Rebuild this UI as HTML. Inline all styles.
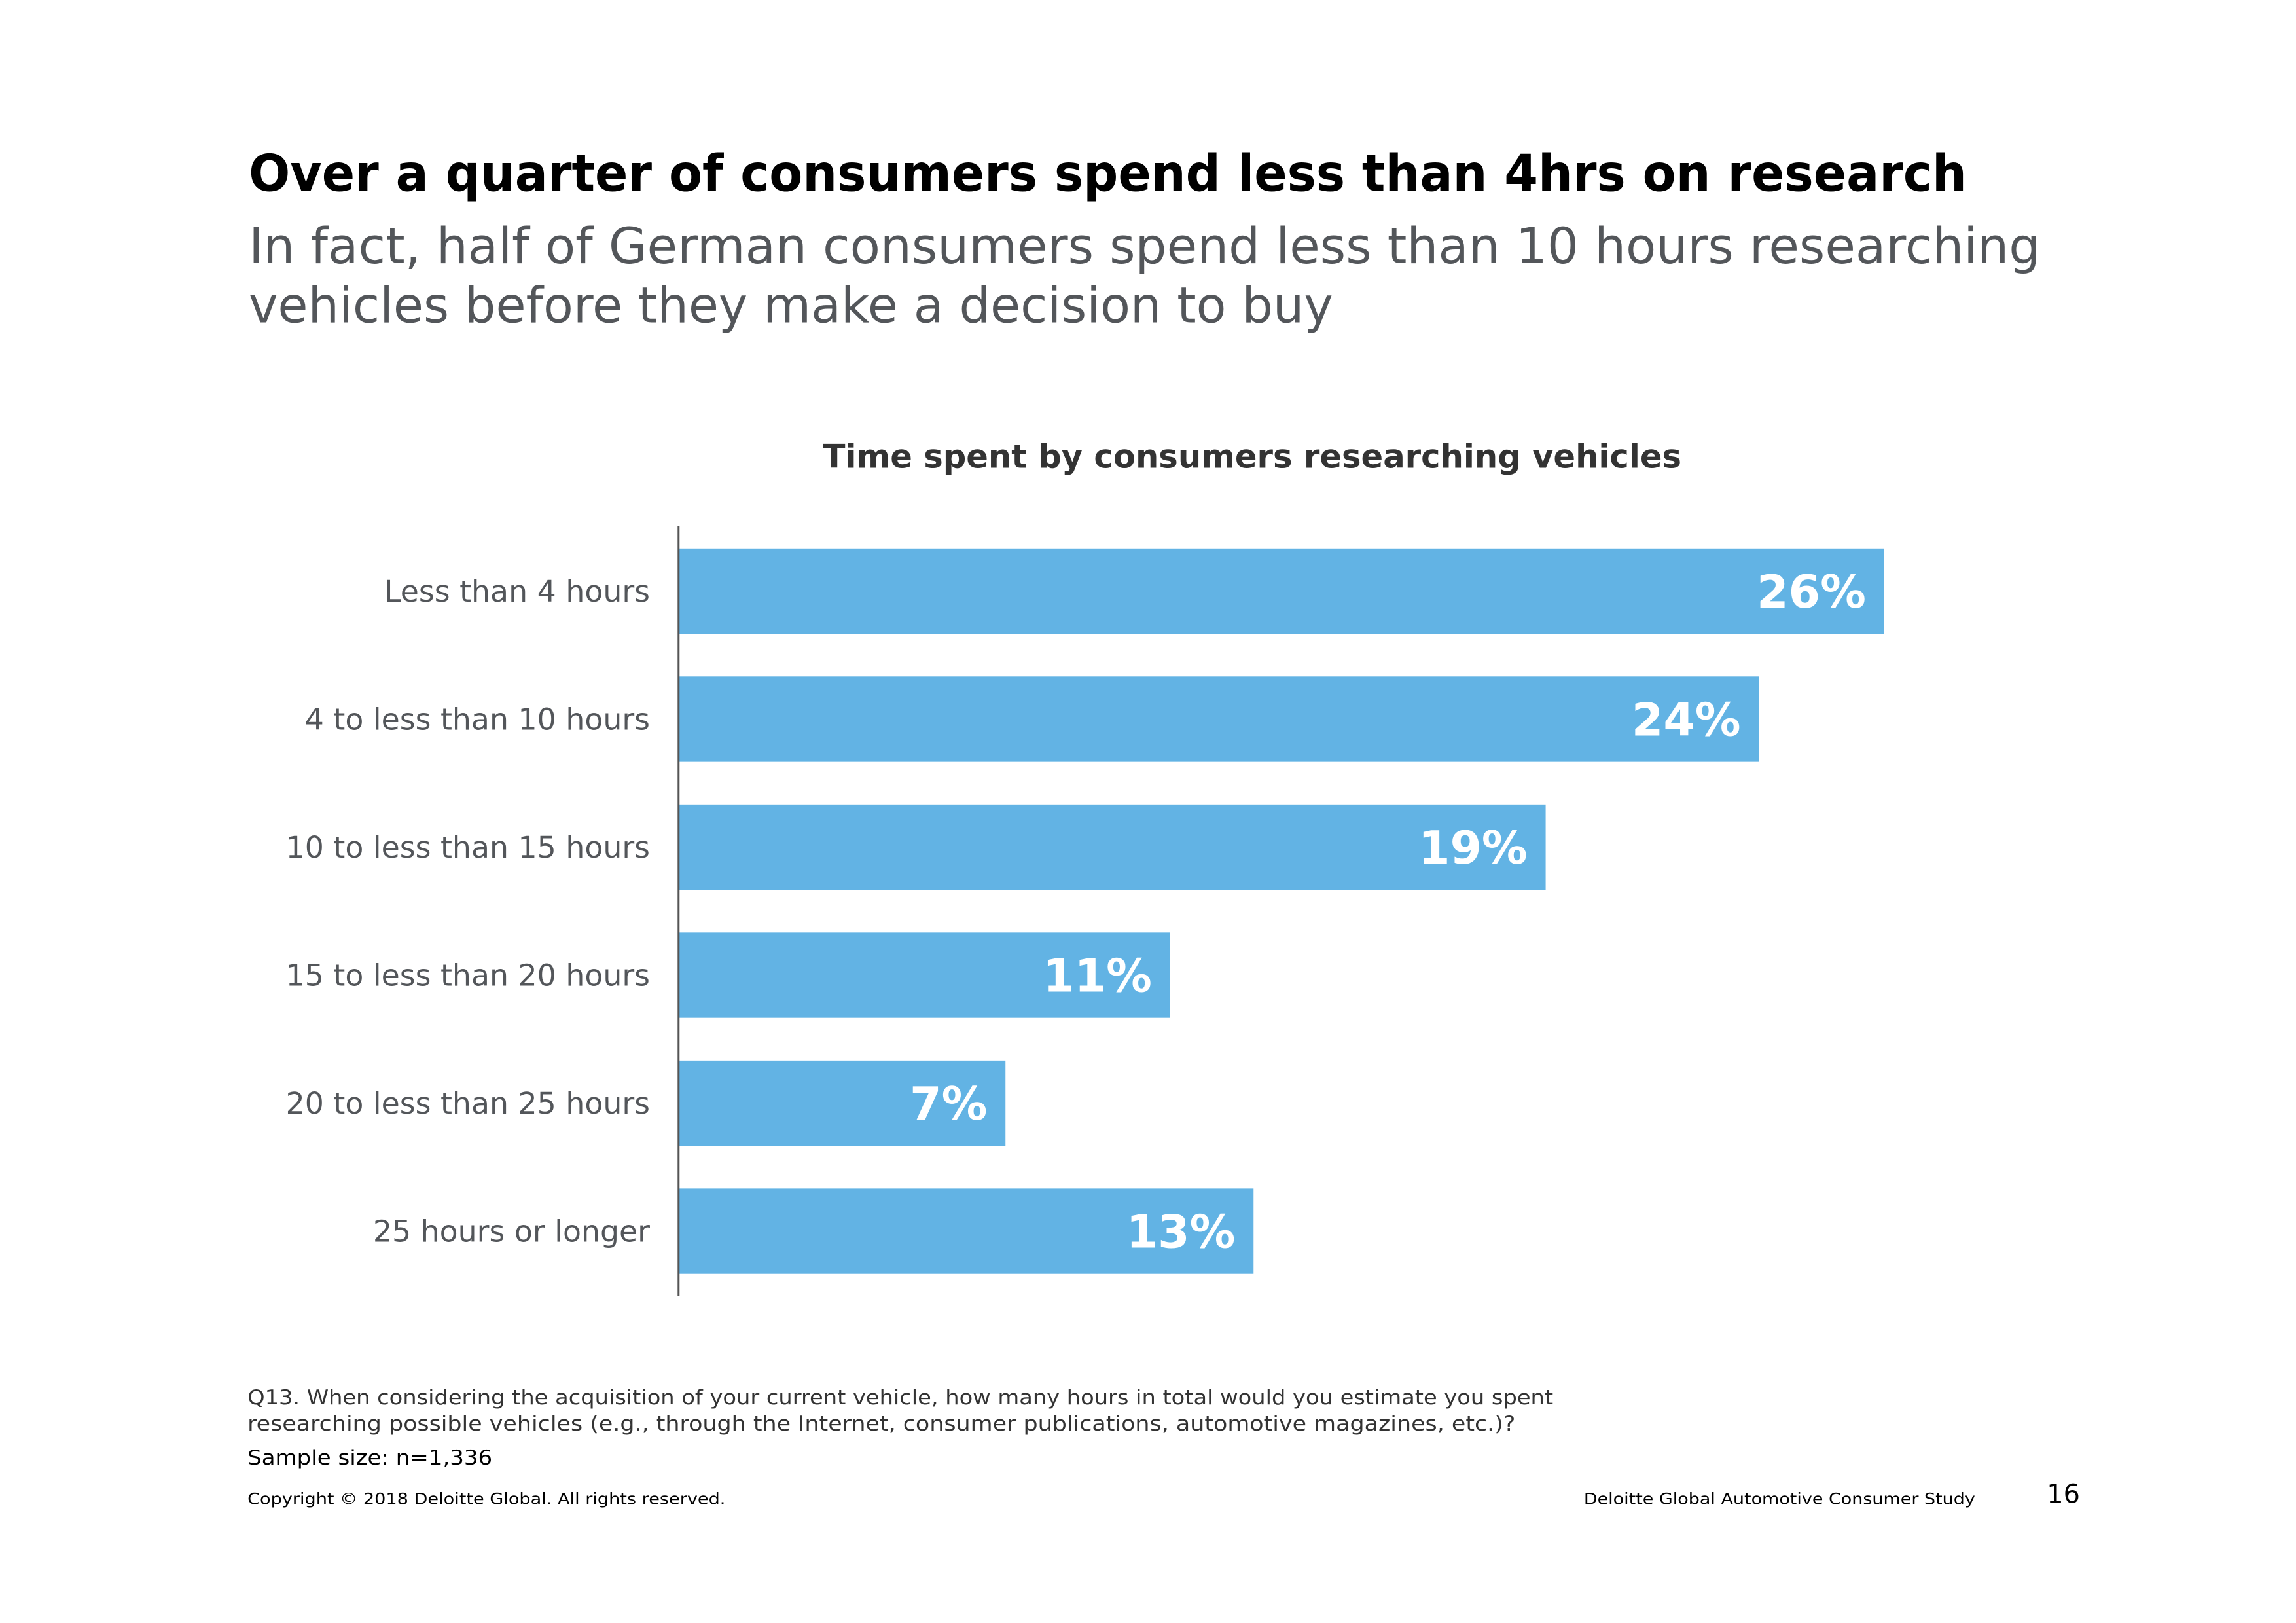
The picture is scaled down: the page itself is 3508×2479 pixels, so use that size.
<!DOCTYPE html>
<html><head><meta charset="utf-8">
<style>
html,body{margin:0;padding:0;background:#fff;}
svg{display:block;font-family:"DejaVu Sans","Liberation Sans",sans-serif;}
</style></head>
<body>
<svg id="chart" width="3508" height="2479" viewBox="0 0 3508 2479" xmlns="http://www.w3.org/2000/svg">
<rect x="0" y="0" width="3508" height="2479" fill="#fff"/>
<g transform="scale(0.995)">
<text x="382" y="293" font-size="78" font-weight="bold" fill="#000" textLength="2638" lengthAdjust="spacingAndGlyphs">Over a quarter of consumers spend less than 4hrs on research</text>
<text x="382" y="404" font-size="76" fill="#53565a" textLength="2751" lengthAdjust="spacingAndGlyphs">In fact, half of German consumers spend less than 10 hours researching</text>
<text x="382" y="495" font-size="76" fill="#53565a" textLength="1665" lengthAdjust="spacingAndGlyphs">vehicles before they make a decision to buy</text>
<text x="1264" y="718" font-size="50" font-weight="bold" fill="#333" textLength="1318" lengthAdjust="spacingAndGlyphs">Time spent by consumers researching vehicles</text>
<g id="bars"></g>
<line x1="1042" y1="807" x2="1042" y2="1989" stroke="#555" stroke-width="3"/>
<text x="380" y="2156" font-size="31" fill="#333" textLength="2005" lengthAdjust="spacingAndGlyphs">Q13. When considering the acquisition of your current vehicle, how many hours in total would you estimate you spent</text>
<text x="380" y="2196" font-size="31" fill="#333" textLength="1947" lengthAdjust="spacingAndGlyphs">researching possible vehicles (e.g., through the Internet, consumer publications, automotive magazines, etc.)?</text>
<text x="380" y="2248" font-size="31" fill="#000" textLength="376" lengthAdjust="spacingAndGlyphs">Sample size: n=1,336</text>
<text x="380" y="2309" font-size="24" fill="#000" textLength="734" lengthAdjust="spacingAndGlyphs">Copyright © 2018 Deloitte Global. All rights reserved.</text>
<text x="2432" y="2309" font-size="24" fill="#000" textLength="601" lengthAdjust="spacingAndGlyphs">Deloitte Global Automotive Consumer Study</text>
<text x="3143" y="2307" font-size="40" fill="#000">16</text>
</g>
</svg>
<script>
const categories = ["Less than 4 hours","4 to less than 10 hours","10 to less than 15 hours","15 to less than 20 hours","20 to less than 25 hours","25 hours or longer"];
const values = [26, 23.3, 18.7, 10.6, 7.05, 12.4];
const valueLabels = ["26%","24%","19%","11%","7%","13%"];

const NS = "http://www.w3.org/2000/svg";
const g = document.getElementById("bars");
const x0 = 1042, pxPerUnit = 71.2;
const top0 = 842, pitch = 196.5, barH = 131;
function xScale(v){ return x0 + v * pxPerUnit; }
function yBand(i){ return top0 + i * pitch; }
categories.forEach((c, i) => {
  const y = yBand(i);
  const r = document.createElementNS(NS, "rect");
  r.setAttribute("x", x0);
  r.setAttribute("y", y);
  r.setAttribute("width", xScale(values[i]) - x0);
  r.setAttribute("height", barH);
  r.setAttribute("fill", "#62b3e4");
  
  
  g.appendChild(r);
  const lab = document.createElementNS(NS, "text");
  lab.setAttribute("x", 998);
  lab.setAttribute("y", y + barH / 2 + 16);
  lab.setAttribute("text-anchor", "end");
  lab.setAttribute("font-size", "46");
  lab.setAttribute("fill", "#53565a");
  lab.textContent = c;
  
  
  g.appendChild(lab);
  const vl = document.createElementNS(NS, "text");
  vl.setAttribute("x", xScale(values[i]) - 28);
  vl.setAttribute("y", y + barH / 2 + 25);
  vl.setAttribute("text-anchor", "end");
  vl.setAttribute("font-size", "70");
  vl.setAttribute("font-weight", "bold");
  vl.setAttribute("fill", "#fff");
  vl.textContent = valueLabels[i];
  
  
  g.appendChild(vl);
});
</script>
</body></html>
